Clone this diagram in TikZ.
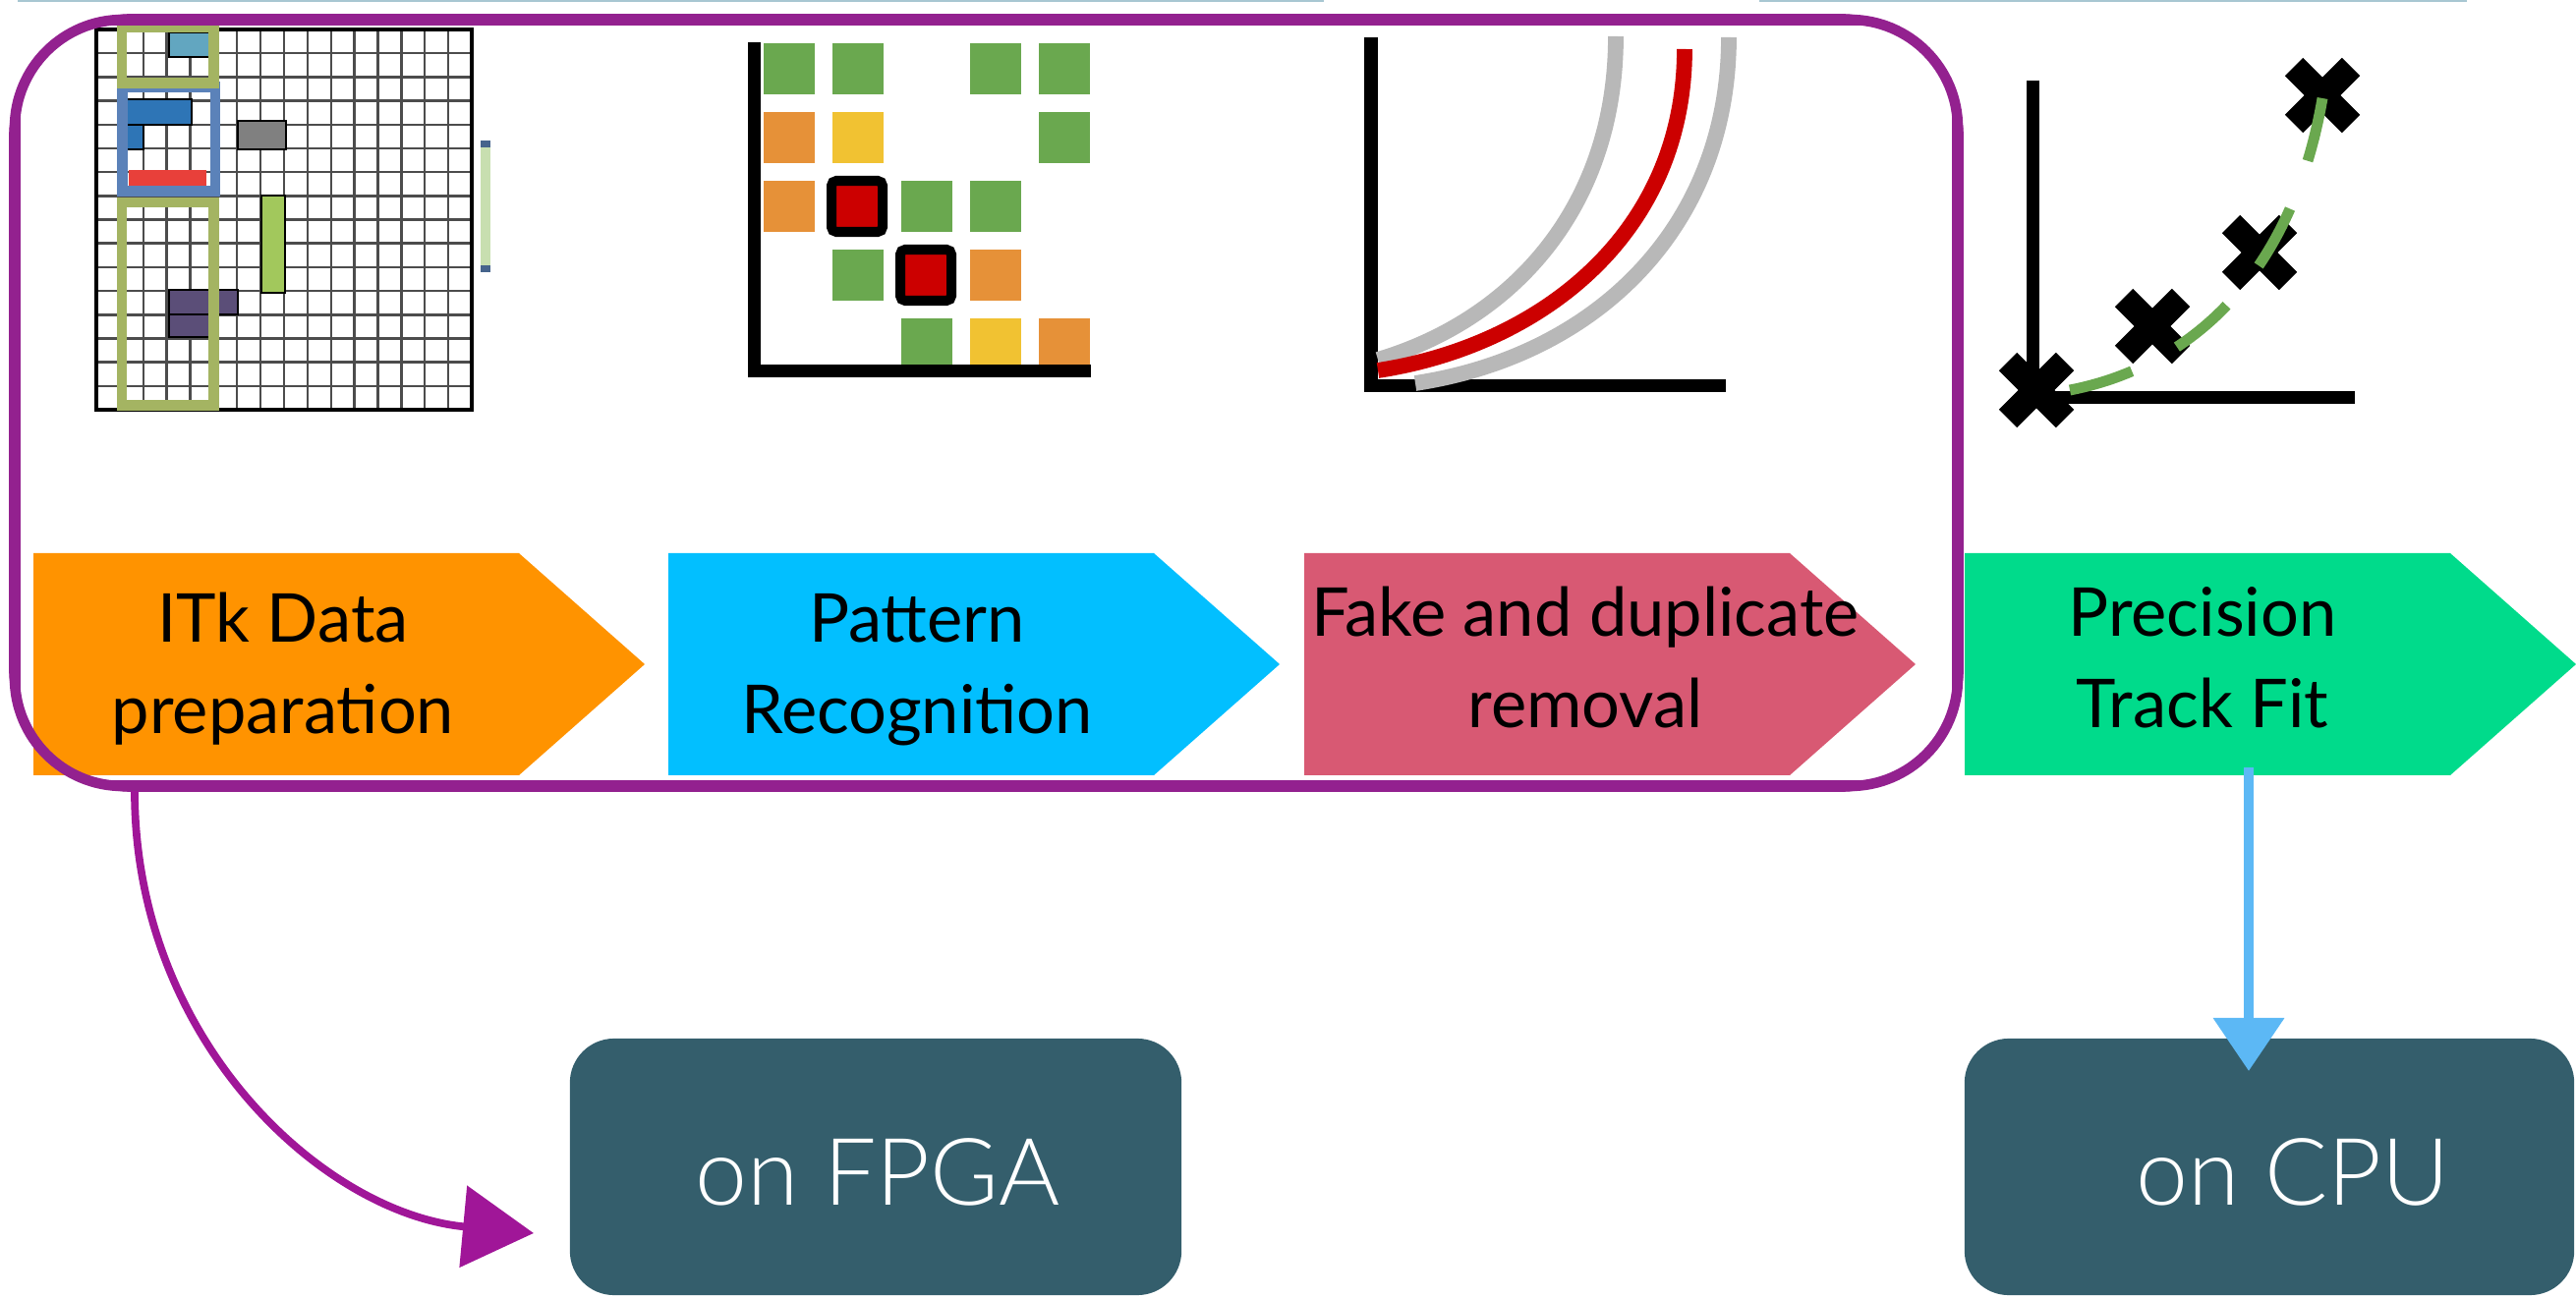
\documentclass[tikz,border=0pt]{standalone}
\usepackage{fontspec}
\setmainfont{Lato}
\newfontfamily\stagefont{Lato}
\newfontfamily\unitfont{Lato}[UprightFont=* Light]
\usetikzlibrary{arrows.meta,calc}

\definecolor{framepurple}{RGB}{147,33,143}
\definecolor{arrowpurple}{RGB}{160,22,152}
\definecolor{headline}{RGB}{168,199,210}
\definecolor{prepcol}{RGB}{255,147,0}
\definecolor{patcol}{RGB}{2,191,255}
\definecolor{fakecol}{RGB}{216,89,115}
\definecolor{fitcol}{RGB}{0,219,139}
\definecolor{unitteal}{RGB}{52,94,108}
\definecolor{cpublue}{RGB}{92,184,245}
% hit map colours
\definecolor{hitcyan}{RGB}{98,166,192}
\definecolor{hitblue}{RGB}{46,117,182}
\definecolor{hitred}{RGB}{232,64,58}
\definecolor{hitgray}{RGB}{128,128,128}
\definecolor{hitlime}{RGB}{162,200,92}
\definecolor{hitpurple}{RGB}{91,78,120}
\definecolor{roadolive}{RGB}{164,180,98}
\definecolor{roadblue}{RGB}{91,130,185}
\definecolor{barlight}{RGB}{200,223,176}
\definecolor{barcap}{RGB}{70,100,140}
% candidate matrix colours
\definecolor{cgreen}{RGB}{106,168,79}
\definecolor{corange}{RGB}{230,145,56}
\definecolor{cyellow}{RGB}{241,194,50}
\definecolor{cred}{RGB}{204,0,0}
\definecolor{curvegray}{RGB}{184,184,184}

\tikzset{
  gridline/.style={black!70,line width=0.7pt},
  hit/.style={draw=black,line width=0.5pt},
  road/.style={line width=3.1pt},
  axisline/.style={line width=3.8pt},
  trackline/.style={line width=4.5pt},
  stage/.style={font=\stagefont\fontsize{19.5}{26.5}\selectfont,align=center,anchor=base,inner sep=0pt},
  unitbox/.style={rounded corners=0.45cm,fill=unitteal,minimum width=6.22cm,minimum height=2.61cm,inner sep=0pt},
  unitlabel/.style={font=\unitfont\fontsize{27}{30}\selectfont,text=white,anchor=base,inner sep=0pt},
  fpgapen/.style={draw=framepurple,line cap=round},
}

\newcommand{\xmark}[1]{%
  \draw[line width=7.4pt] ($#1+(-29,-29)$) -- ($#1+(29,29)$);
  \draw[line width=7.4pt] ($#1+(-29,29)$) -- ($#1+(29,-29)$);}

\begin{document}
\begin{tikzpicture}[x=0.01cm,y=-0.01cm]
    \useasboundingbox (0,0) rectangle (2621,1322);
    % slide header rule
    \draw[headline,line width=0.6pt] (18,1) -- (1347,1);
    \draw[headline,line width=0.6pt] (1790,1) -- (2510,1);

    % hit map with roads
    \foreach \i in {1,...,15} {
        \draw[gridline] ({98+23.875*\i},30) -- ({98+23.875*\i},417);
        \draw[gridline] (98,{30+24.19*\i}) -- (480,{30+24.19*\i});
    }
    \draw[line width=1.3pt] (98,30) rectangle (480,417);
    \draw[hit,fill=hitcyan] (172,33) rectangle (213,58);
    \draw[hit,fill=hitblue] (129,101) rectangle (195,127);
    \draw[hit,fill=hitblue] (129,127) rectangle (146,152);
    \fill[hitred] (131,173) rectangle (210,193);
    \draw[hit,fill=hitgray] (242,123) rectangle (291,152);
    \draw[hit,fill=hitlime] (266,199) rectangle (290,298);
    \draw[hit,fill=hitpurple] (172,295) rectangle (242,320);
    \draw[hit,fill=hitpurple] (172,320) rectangle (213,343);
    \draw[road,draw=roadblue] (124.5,88.5) rectangle (219,194.5);
    \draw[road,draw=roadolive] (124,27.5) rectangle (217.5,84.5);
    \draw[road,draw=roadolive] (124,206) rectangle (217.5,412.5);
    \fill[barlight] (489,143) rectangle (499,277);
    \fill[barcap] (489,143) rectangle (499,150);
    \fill[barcap] (489,270) rectangle (499,277);

    % candidate matrix
    \foreach \c/\r/\col in {0/0/cgreen,1/0/cgreen,3/0/cgreen,4/0/cgreen,
        0/1/corange,1/1/cyellow,4/1/cgreen,0/2/corange,2/2/cgreen,3/2/cgreen,
        1/3/cgreen,3/3/corange,2/4/cgreen,3/4/cyellow,4/4/corange}
        \fill[\col] ({777+70*\c},{44+70*\r}) rectangle ++(52,52);
    \foreach \c/\r in {1/2,2/3}
        \draw[line width=2.85pt,rounded corners=0.05cm,fill=cred] ({776+70*\c},{44+70*\r}) rectangle ++(52,52);
    \draw[axisline] (767.5,43) |- (1110,377.5);

    % track candidates
    \draw[axisline] (1395,38) |- (1756,392.5);
    \draw[trackline,curvegray] (1402,366) .. controls (1540,325) and (1644,210) .. (1644,37);
    \draw[trackline,curvegray] (1440,390) .. controls (1625,362) and (1759,230) .. (1759,38);
    \draw[trackline,cred] (1402,377) .. controls (1565,352) and (1714,240) .. (1714,50);

    % precision fit
    \draw[axisline] (2068.5,82) |- (2396,404.5);
    \xmark{(2072,397)}
    \xmark{(2190,332)}
    \xmark{(2299,257)}
    \xmark{(2363,97)}
    \draw[cgreen,line width=3.1pt,dash pattern=on 18.8pt off 14.8pt]
        (2106,397) .. controls (2220,375) and (2330,290) .. (2363,100);

    % processing stages
    \foreach \x/\col in {34/prepcol,680/patcol,1327/fakecol,1999/fitcol}
        \fill[\col] (\x,563) -- ++(494,0) -- ++(128,113) -- ++(-128,113) -- ++(-494,0) -- cycle;
    \node[stage] (prep) at (288,747) {ITk Data\\preparation};
    \node[stage] (patrec) at (933,747) {Pattern\\Recognition};
    \node[stage] (fake) at (1613,741) {Fake and duplicate\\removal};
    \node[stage] (fit) at (2241,741) {Precision\\Track Fit};

    % part of the chain that runs on the FPGA
    \draw[fpgapen,line width=3pt,rounded corners=1.1cm] (15,20) rectangle (1992,800);
    \draw[fpgapen,line width=0.5pt,rounded corners=1.25cm] (10,15) rectangle (1997,805);
    \draw[fpgapen,line width=0.5pt,rounded corners=0.95cm] (20,25) rectangle (1987,795);

    % hardware targets
    \node[unitbox] (fpga) at (891,1187.5) {};
    \node[unitbox,minimum width=6.2cm] (cpu) at (2309,1187.5) {};
    \node[unitlabel] (fpgalabel) at (893,1226) {on FPGA};
    \node[unitlabel] (cpulabel) at (2333,1226) {on CPU};

    \coordinate (fpgaout) at (137,805);
    \coordinate (fpgatip) at (543,1255);
    \coordinate (fitout) at (2288,781);
    \coordinate (cputip) at (2288,1090);
    \draw[arrowpurple,line width=2.2pt,-{Triangle[length=0.72cm,width=0.82cm]}]
        (fpgaout) .. controls (137,1060) and (330,1235) .. (fpgatip);
    \draw[cpublue,line width=3pt,-{Triangle[length=0.54cm,width=0.7cm]}] (fitout) -- (cputip);
\end{tikzpicture}
\end{document}
